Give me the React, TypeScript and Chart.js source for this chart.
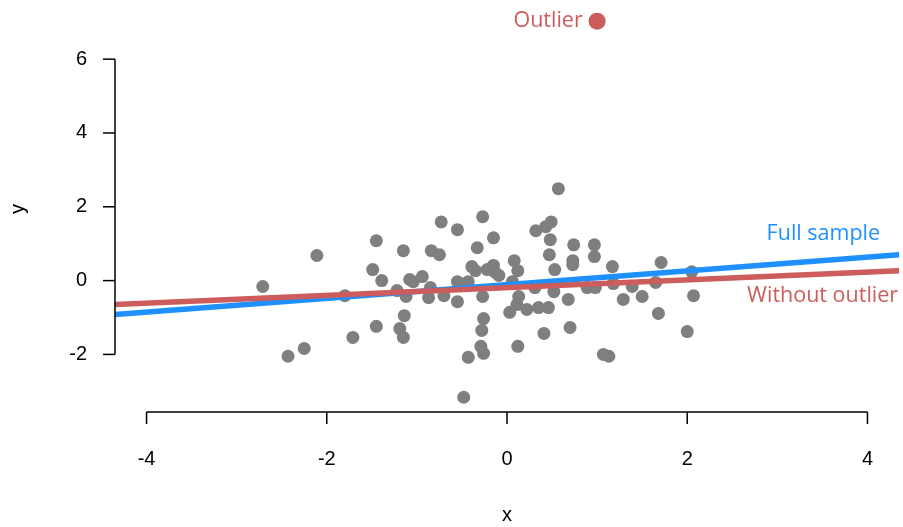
import React, { useEffect, useRef } from "react";
import { Chart, registerables } from "chart.js";

Chart.register(...registerables);

const pointX = [
  -2.71, -2.43, -2.25, -2.11, -1.8, -1.71, -1.49, -1.45, -1.45, -1.39,
  -1.22, -1.19, -1.15, -1.15, -1.14, -1.12, -1.08, -1.04, -0.94, -0.87,
  -0.85, -0.84, -0.75, -0.73, -0.7, -0.55, -0.55, -0.55, -0.48, -0.43,
  -0.43, -0.39, -0.35, -0.33, -0.27, -0.27, -0.26, -0.28, -0.29, -0.26,
  -0.22, -0.15, -0.15, -0.13, -0.09, 0.06, 0.08, 0.12, 0.03, 0.11,
  0.13, 0.12, 0.22, 0.31, 0.32, 0.35, 0.41, 0.43, 0.46, 0.49,
  0.48, 0.47, 0.52, 0.53, 0.57, 0.68, 0.7, 0.74, 0.73, 0.97,
  0.97, 0.89, 0.98, 1.07, 1.13, 1.17, 1.18, 1.29, 1.39, 1.5,
  1.65, 1.68, 1.71, 2.0, 2.05, 2.07, 0.73,
];
const pointY = [
  -0.16, -2.05, -1.84, 0.68, -0.41, -1.54, 0.3, 1.08, -1.24, 0.0,
  -0.27, -1.3, 0.81, -1.54, -0.95, -0.43, 0.03, -0.03, 0.11, -0.46,
  -0.19, 0.81, 0.7, 1.59, -0.41, 1.38, -0.03, -0.57, -3.16, -2.08,
  -0.03, 0.38, 0.27, 0.89, 1.73, -0.43, -1.03, -1.35, -1.78, -1.97,
  0.3, 0.41, 1.16, 0.22, 0.14, -0.03, 0.54, 0.27, -0.86, -0.65,
  -0.43, -1.78, -0.78, -0.19, 1.35, -0.73, -1.43, 1.46, -0.73, 1.59,
  1.11, 0.7, -0.3, 0.3, 2.49, -0.51, -1.27, 0.97, 0.54, 0.97,
  0.65, -0.19, -0.19, -2.0, -2.05, 0.38, -0.08, -0.51, -0.16, -0.43,
  -0.05, -0.89, 0.49, -1.38, 0.24, -0.41, 0.43,
];

const outlierX = [1.0];
const outlierY = [7.03];

const lineX = [-4.35, 4.35];
const fullLineY = [-0.92, 0.7];
const noOutlierLineY = [-0.65, 0.27];

const xTicks = [-4, -2, 0, 2, 4];
const yTicks = [-2, 0, 2, 4, 6];

const GREY = "#7F7F7F";
const BLUE = "#1E90FF";
const RED = "#CD5C5C";

const TICK_FONT = '20px "Liberation Sans", Arial, sans-serif';
const LABEL_FONT = '21.5px "Open Sans", sans-serif';

const annotations = [
  { text: "Full sample", x: 4.14, y: 1.27, color: BLUE },
  { text: "Without outlier", x: 4.34, y: -0.41, color: RED },
  { text: "Outlier", x: 0.84, y: 7.05, color: RED },
];

const axesPlugin = {
  id: "rAxes",
  afterDatasetsDraw(chart: any) {
    const ctx = chart.ctx as CanvasRenderingContext2D;
    const xs = chart.scales.x;
    const ys = chart.scales.y;
    const area = chart.chartArea;
    ctx.save();
    ctx.strokeStyle = "#000";
    ctx.lineWidth = 1.5;
    ctx.fillStyle = "#000";
    ctx.font = TICK_FONT;

    // y axis
    const yx = area.left;
    ctx.beginPath();
    ctx.moveTo(yx, ys.getPixelForValue(yTicks[0]));
    ctx.lineTo(yx, ys.getPixelForValue(yTicks[yTicks.length - 1]));
    ctx.stroke();
    ctx.textAlign = "right";
    ctx.textBaseline = "middle";
    for (const t of yTicks) {
      const py = ys.getPixelForValue(t);
      ctx.beginPath();
      ctx.moveTo(yx - 12, py);
      ctx.lineTo(yx, py);
      ctx.stroke();
      ctx.fillText(String(t), yx - 28, py);
    }

    // x axis
    const xy = area.bottom;
    ctx.beginPath();
    ctx.moveTo(xs.getPixelForValue(xTicks[0]), xy);
    ctx.lineTo(xs.getPixelForValue(xTicks[xTicks.length - 1]), xy);
    ctx.stroke();
    ctx.textAlign = "center";
    ctx.textBaseline = "middle";
    for (const t of xTicks) {
      const px = xs.getPixelForValue(t);
      ctx.beginPath();
      ctx.moveTo(px, xy);
      ctx.lineTo(px, xy + 12);
      ctx.stroke();
      ctx.fillText(String(t), px, xy + 47);
    }

    // axis titles
    ctx.fillText("x", (area.left + area.right) / 2, xy + 103);
    ctx.save();
    ctx.translate(18, (area.top + area.bottom) / 2);
    ctx.rotate(-Math.PI / 2);
    ctx.fillText("y", 0, 0);
    ctx.restore();

    // annotations
    ctx.font = LABEL_FONT;
    ctx.textAlign = "right";
    ctx.textBaseline = "middle";
    for (const a of annotations) {
      ctx.fillStyle = a.color;
      ctx.fillText(a.text, xs.getPixelForValue(a.x), ys.getPixelForValue(a.y));
    }
    ctx.restore();
  },
};

export default function App() {
  const ref = useRef<HTMLCanvasElement | null>(null);
  useEffect(() => {
    document.body.style.margin = "0";
    if (!ref.current) return;
    const chart = new Chart(ref.current, {
      type: "scatter",
      data: {
        datasets: [
          {
            type: "scatter",
            label: "Outlier",
            data: outlierX.map((x, i) => ({ x, y: outlierY[i] })),
            backgroundColor: RED,
            borderWidth: 0,
            pointRadius: 8.5,
            order: 0,
          } as any,
          {
            type: "line",
            label: "Without outlier",
            data: lineX.map((x, i) => ({ x, y: noOutlierLineY[i] })),
            borderColor: RED,
            borderWidth: 5.5,
            pointRadius: 0,
            borderCapStyle: "round",
            fill: false,
            order: 1,
          } as any,
          {
            type: "line",
            label: "Full sample",
            data: lineX.map((x, i) => ({ x, y: fullLineY[i] })),
            borderColor: BLUE,
            borderWidth: 5.5,
            pointRadius: 0,
            borderCapStyle: "round",
            fill: false,
            order: 2,
          } as any,
          {
            type: "scatter",
            label: "Data",
            data: pointX.map((x, i) => ({ x, y: pointY[i] })),
            backgroundColor: GREY,
            borderWidth: 0,
            pointRadius: 6.5,
            order: 3,
          } as any,
        ],
      },
      options: {
        animation: false,
        responsive: false,
        maintainAspectRatio: false,
        layout: { autoPadding: false, padding: { left: 115, right: 4, top: 6, bottom: 115 } },
        plugins: {
          legend: { display: false },
          tooltip: { enabled: false },
        },
        scales: {
          x: { type: "linear", min: -4.35, max: 4.35, display: false },
          y: { type: "linear", min: -3.56, max: 7.44, display: false },
        },
      },
      plugins: [axesPlugin],
    });
    return () => chart.destroy();
  }, []);
  return (
    <div style={{ width: 903, height: 527 }}>
      <canvas ref={ref} width={903} height={527} />
    </div>
  );
}
